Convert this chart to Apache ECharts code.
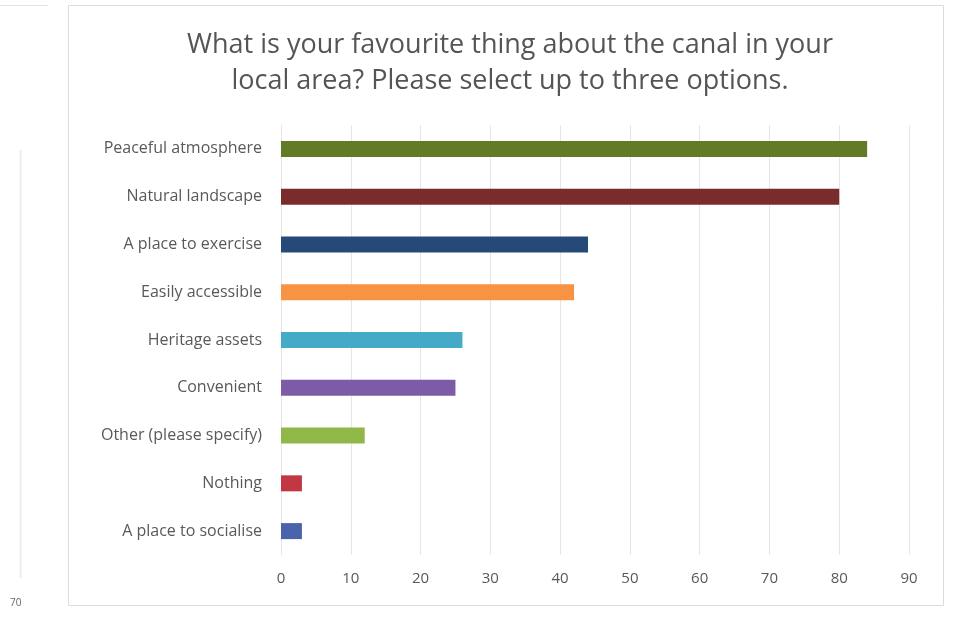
<!DOCTYPE html>
<html>
<head>
<meta charset="utf-8">
<script src="https://cdn.jsdelivr.net/npm/echarts@6/dist/echarts.min.js"></script>
<style>
html,body{margin:0;padding:0;background:#fff;}
#chart{width:966px;height:623px;}
</style>
</head>
<body>
<div id="chart"></div>
<script>
var titleText = 'What is your favourite thing about the canal in your\nlocal area? Please select up to three options.';
var categories = ['A place to socialise','Nothing','Other (please specify)','Convenient','Heritage assets','Easily accessible','A place to exercise','Natural landscape','Peaceful atmosphere'];
var values = [3, 3, 12, 25, 26, 42, 44, 80, 84];
var colors = ['#4a63ad','#c13842','#8fb849','#7c5ca6','#45aac8','#f79443','#254a78','#7a2b2b','#627b27'];
var xTicks = [0, 10, 20, 30, 40, 50, 60, 70, 80, 90];

var chart = echarts.init(document.getElementById('chart'), null, {renderer:'canvas'});
var font = '"Open Sans", "Liberation Sans", sans-serif';
chart.setOption({
  animation: false,
  backgroundColor: '#ffffff',
  title: {
    text: titleText,
    left: 505, top: 22, textAlign: 'center',
    textStyle: {fontFamily: font, fontSize: 27, fontWeight: 'normal', color: '#555555', lineHeight: 36}
  },
  graphic: [
    {type:'rect', shape:{x:68.5, y:5.5, width:875, height:600}, style:{fill:'none', stroke:'#dcdcdc', lineWidth:1}, z:-1},
    {type:'line', shape:{x1:0, y1:5.5, x2:48, y2:5.5}, style:{stroke:'#e2e2e2', lineWidth:1}},
    {type:'line', shape:{x1:20.5, y1:150, x2:20.5, y2:578}, style:{stroke:'#eeeeee', lineWidth:2}},
    {type:'text', left:10, top:598, style:{text:'70', fill:'#666666', font:'10px ' + font}}
  ],
  grid: {left: 281, right: 57, top: 125, bottom: 68, containLabel: false},
  xAxis: {
    type: 'value', min: 0, max: 90, interval: 10,
    axisLine: {show: false}, axisTick: {show: false},
    splitLine: {show: true, lineStyle: {color: '#e6e6e6', width: 1}},
    axisLabel: {color: '#595959', fontFamily: font, fontSize: 15, margin: 16,
      formatter: function(v){ return xTicks.indexOf(v) >= 0 ? String(v) : ''; }}
  },
  yAxis: {
    type: 'category', data: categories,
    axisLine: {show: true, lineStyle: {color: '#e6e6e6'}},
    axisTick: {show: false},
    axisLabel: {color: '#595959', fontFamily: font, fontSize: 16, margin: 19}
  },
  series: [{
    type: 'bar',
    data: values.map(function(v, i){ return {value: v, itemStyle: {color: colors[i]}}; }),
    barWidth: 16
  }]
});
</script>
</body>
</html>
